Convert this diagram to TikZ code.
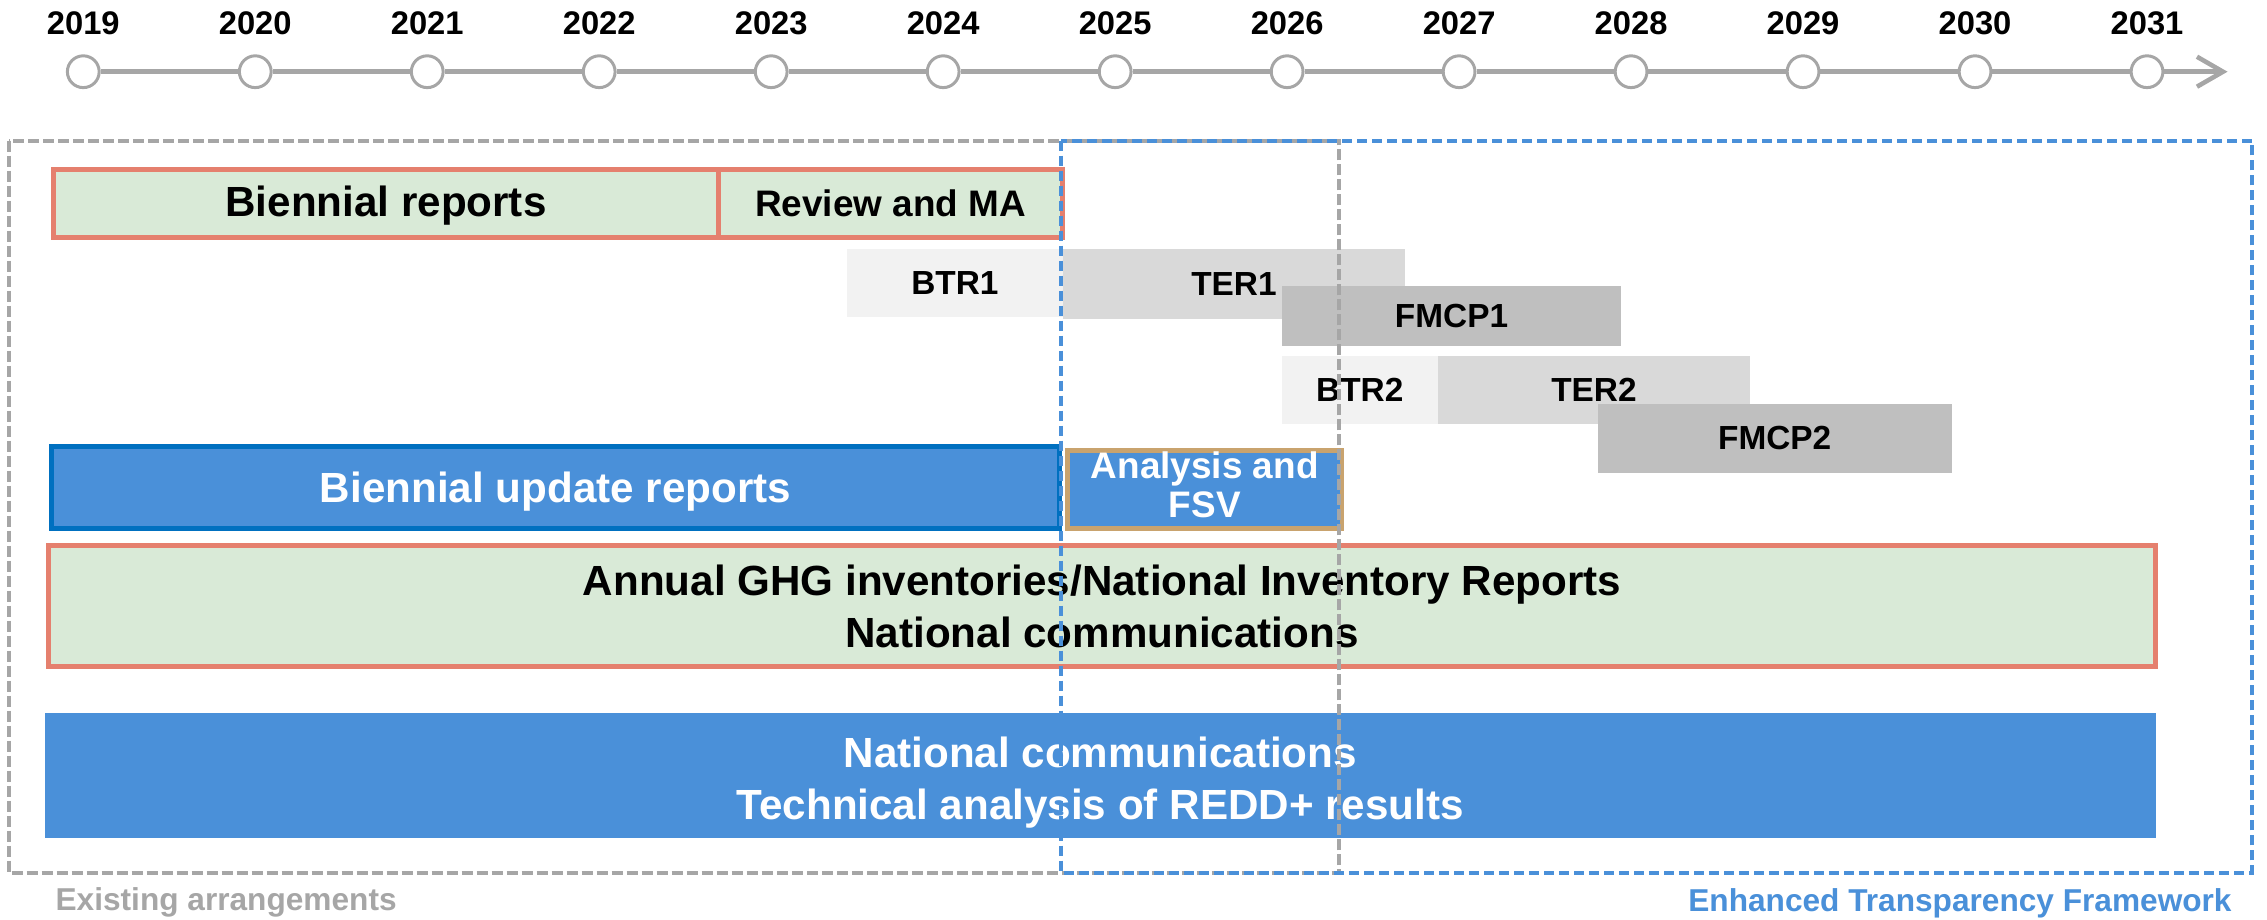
\documentclass[tikz,border=0pt]{standalone}
\usepackage{fontspec}
\setmainfont{Liberation Sans}
\usepackage{tikz}
\usetikzlibrary{positioning,arrows.meta}
\newcommand{\pxu}{0.14458mm}
\newcommand{\txtdown}[1]{\rule{0pt}{#1}}
\definecolor{brgreen}{HTML}{D9EAD7}
\definecolor{brsalmon}{HTML}{E5806E}
\definecolor{etfblue}{HTML}{4A90D9}
\definecolor{burblue}{HTML}{0070C0}
\definecolor{fsvtan}{HTML}{C9A36E}
\definecolor{tlgrey}{HTML}{A6A6A6}
\definecolor{greyone}{HTML}{F2F2F2}
\definecolor{greytwo}{HTML}{D9D9D9}
\definecolor{greythree}{HTML}{BFBFBF}

\tikzset{
  wh/.style 2 args={minimum width=#1*\pxu, minimum height=#2*\pxu},
  tlbox/.style={anchor=north west, inner sep=0pt, align=center,
    font=\bfseries\fontsize{12}{14.8}\selectfont},
  greenbar/.style={tlbox, fill=brgreen, draw=brsalmon, line width=1.4pt},
  bluebar/.style={tlbox, fill=etfblue, text=white},
  report/.style={tlbox, font=\bfseries\fontsize{9.5}{11}\selectfont},
  tlcirc/.style={circle, draw=tlgrey, fill=white, line width=0.85pt,
    minimum size=3.18mm, inner sep=0pt},
  tlline/.style={draw=tlgrey, line width=1.3pt},
  yearlbl/.style={inner sep=0pt, font=\bfseries\fontsize{9.3}{11}\selectfont}
}

\begin{document}
\begin{tikzpicture}[x=\pxu, y=-\pxu]
    \useasboundingbox (0,0) rectangle (1568,636);
    % timeline
    \foreach \yr [count=\i from 0] in {2019,...,2031} {
      \node[tlcirc] at ({57.6+118.95*\i},49.6) (y\yr) {};
      \node[yearlbl, above=1.85mm of y\yr] {\yr};
    }
    \foreach \yr [remember=\yr as \prev (initially 2019)] in {2020,...,2031}
      \draw[tlline] (y\prev) -- (y\yr);
    \coordinate (tlend) at (1540.7,49.6);
    \draw[tlline, -{Straight Barb[length=2.6mm, width=3mm]}] (y2031) -- (tlend);

    % reporting under the convention
    \node[greenbar, wh={460.5}{47}] at (35,115.5) (br) {\txtdown{10.2pt}Biennial reports};
    \node[greenbar, wh={237.5}{47}, font=\bfseries\fontsize{10.5}{12}\selectfont]
      at (495.5,115.5) (rma) {Review and MA};

    % transparency cycle
    \node[report, fill=greyone, wh={150}{47}] at (585,171.5) (btrone) {BTR1};
    \node[report, fill=greytwo, wh={236}{48}] at (735,172) (terone) {TER1};
    \node[report, fill=greythree, wh={235}{42}] at (886,197) (fmcpone) {FMCP1};
    \node[report, fill=greyone, wh={108}{47}] at (886,245.5) (btrtwo) {BTR2};
    \node[report, fill=greytwo, wh={216}{47}] at (994,245.5) (tertwo) {TER2};
    \node[report, fill=greythree, wh={245}{47.5}] at (1104.5,279) (fmcptwo) {FMCP2};

    \node[bluebar, draw=burblue, line width=1.4pt, wh={697}{56.4}]
      at (34,307.3) (bur) {\txtdown{11.1pt}Biennial update reports};
    \node[bluebar, draw=fsvtan, line width=1.4pt, wh={189.8}{53.7},
      font=\bfseries\fontsize{10.5}{11.1}\selectfont]
      at (736.7,310) (afsv) {Analysis and\\FSV\rule[-2.5pt]{0pt}{0pt}};

    \node[greenbar, wh={1457}{83.6}] at (32,375.7) (ghg)
      {Annual GHG inventories/National Inventory Reports\\National communications};
    \node[bluebar, wh={1460.2}{86.4}] at (30.4,493) (nc)
      {\txtdown{12.3pt}National communications\\Technical analysis of REDD+ results};

    % arrangements
    \draw[tlgrey, line width=1.1pt, dash pattern=on 1.1mm off 0.4mm]
      (6,97.3) rectangle (926.4,603.6);
    \draw[etfblue, line width=1.15pt, dash pattern=on 1mm off 0.5mm]
      (734,97.3) rectangle (1557.6,603.6);
    \node[anchor=base west, inner sep=0pt, text=tlgrey,
      font=\bfseries\fontsize{9}{11}\selectfont] at (38,629.5) (old) {Existing arrangements};
    \node[anchor=base east, inner sep=0pt, text=etfblue,
      font=\bfseries\fontsize{9}{11}\selectfont] at (1544,630.5) (etf) {Enhanced Transparency Framework};
\end{tikzpicture}
\end{document}
